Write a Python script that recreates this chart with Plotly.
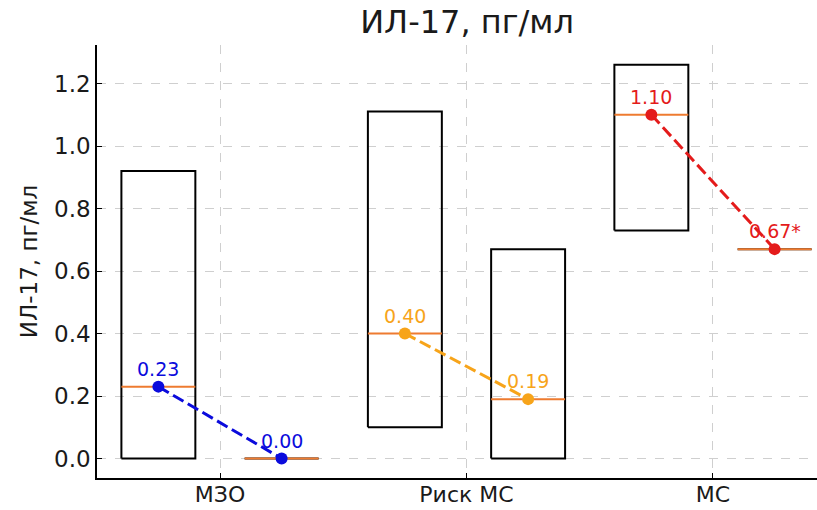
import plotly.graph_objects as go

# Groups and the two measurements per group (before / after)
groups = ["МЗО", "Риск МС", "МС"]

q1_before = [0.00, 0.10, 0.73]
median_before = [0.23, 0.40, 1.10]
q3_before = [0.92, 1.11, 1.26]

q1_after = [0.00, 0.00, 0.67]
median_after = [0.00, 0.19, 0.67]
q3_after = [0.00, 0.67, 0.67]

after_marks = ["", "", "*"]
series_colors = ["#0b0bdc", "#f7a41a", "#e41b1b"]

y_ticks = [0.0, 0.2, 0.4, 0.6, 0.8, 1.0, 1.2]

OFFSET = 0.25
BOX_W = 0.3
MEDIAN_COLOR = "#ee7b30"
FONT = "DejaVu Sans"

fig = go.Figure()


def add_box(xc, q1, med, q3):
    xl, xr = xc - BOX_W / 2, xc + BOX_W / 2
    fig.add_trace(go.Scatter(
        x=[xl, xr, xr, xl, xl], y=[q1, q1, q3, q3, q1],
        mode="lines", line=dict(color="black", width=2),
        hoverinfo="skip", showlegend=False))
    fig.add_trace(go.Scatter(
        x=[xl, xr], y=[med, med], mode="lines",
        line=dict(color=MEDIAN_COLOR, width=2),
        hoverinfo="skip", showlegend=False))


for i in range(len(groups)):
    add_box(i - OFFSET, q1_before[i], median_before[i], q3_before[i])
    add_box(i + OFFSET, q1_after[i], median_after[i], q3_after[i])

for i in range(len(groups)):
    xs = [i - OFFSET, i + OFFSET]
    ys = [median_before[i], median_after[i]]
    c = series_colors[i]
    fig.add_trace(go.Scatter(
        x=xs, y=ys, mode="lines+markers",
        line=dict(color=c, width=3, dash="12px,5px"),
        marker=dict(color=c, size=12),
        showlegend=False))
    labels = [f"{median_before[i]:.2f}", f"{median_after[i]:.2f}{after_marks[i]}"]
    for xv, yv, t in zip(xs, ys, labels):
        fig.add_annotation(
            x=xv, y=yv, text=t, showarrow=False, yshift=18,
            font=dict(family=FONT, size=19, color=c))

axis_common = dict(
    showline=True, linecolor="black", linewidth=1.6,
    ticks="inside", ticklen=5, tickwidth=1.3, tickcolor="black",
    showgrid=True, gridcolor="#cfcfcf", griddash="dash", gridwidth=1,
    zeroline=False, mirror=False, automargin=False,
)

fig.update_xaxes(
    range=[-0.499, 2.422],
    tickmode="array", tickvals=list(range(len(groups))), ticktext=groups,
    tickfont=dict(family=FONT, size=22, color="#1a1a1a"),
    ticklabelstandoff=-4,
    **axis_common)
fig.update_yaxes(
    range=[-0.0624, 1.3232],
    tickmode="array", tickvals=y_ticks, ticktext=[f"{v:.1f}" for v in y_ticks],
    tickfont=dict(family=FONT, size=23, color="#1a1a1a"),
    title=dict(text="ИЛ-17, пг/мл", font=dict(family=FONT, size=23, color="#1a1a1a"),
               standoff=10),
    **axis_common)

fig.update_layout(
    width=817, height=510,
    margin=dict(l=97, r=0, t=45, b=32, pad=0),
    paper_bgcolor="white", plot_bgcolor="white",
    title=dict(text="ИЛ-17, пг/мл", x=467 / 817, xanchor="center",
               y=1 - 22 / 510, yanchor="middle", yref="container",
               font=dict(family=FONT, size=32, color="#1a1a1a")),
    font=dict(family=FONT),
)

fig.write_html("out.html")
